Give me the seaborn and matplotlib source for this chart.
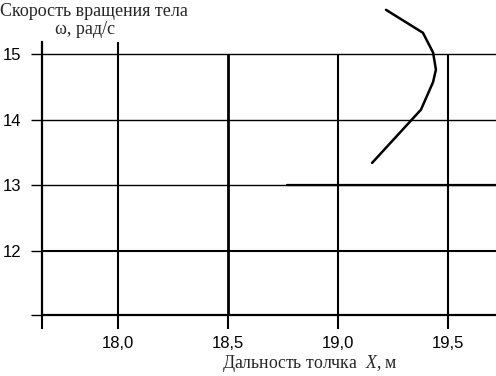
import matplotlib
matplotlib.use("Agg")
import matplotlib.pyplot as plt
import seaborn as sns
import pandas as pd

sns.set_theme(style="white")
plt.rcParams["font.family"] = ["Liberation Sans", "DejaVu Sans"]
plt.rcParams["mathtext.fontset"] = "custom"
plt.rcParams["mathtext.it"] = "Liberation Serif:italic"

# curve: throw distance X (m) vs body rotation speed omega (rad/s)
distance = [19.155, 19.377, 19.432, 19.445, 19.432, 19.386, 19.218]
omega = [13.34, 14.15, 14.57, 14.76, 15.02, 15.32, 15.67]

# horizontal reference segment at omega = 13
ref_x = [18.77, 19.72]
ref_y = [13.0, 13.0]

x_ticks = [18.0, 18.5, 19.0, 19.5]
x_labels = ["18,0", "18,5", "19,0", "19,5"]
y_ticks = [12, 13, 14, 15]
y_labels = ["12", "13", "14", "15"]

xmin, xmax = 17.655, 19.718
ymin, ymax = 11.025, 15.18

df = pd.DataFrame({"x": distance, "w": omega})

fig = plt.figure(figsize=(4.96, 3.76), dpi=100)
ax = fig.add_axes([42 / 496, 61 / 376, 1 - 42 / 496, (315 - 42) / 376])

sns.lineplot(data=df, x="x", y="w", sort=False, estimator=None, color="black",
             lw=1.8, ax=ax, clip_on=False, zorder=5)
ax.plot(ref_x, ref_y, color="black", lw=1.6, zorder=4)

ax.set_xlim(xmin, xmax)
ax.set_ylim(ymin, ymax)

# grid
for t in y_ticks:
    ax.axhline(t, color="black", lw=1.0 if t != 12 else 1.5, zorder=1)
for t in x_ticks:
    top = ymax if t == 18.0 else 15.0
    ax.vlines(t, ymin, top, color="black", lw=2.0 if t == 18.5 else 1.5, zorder=1)

ax.set_xticks([xmin] + x_ticks)
ax.set_xticklabels([""] + x_labels)
ax.set_yticks([ymin] + y_ticks)
ax.set_yticklabels([""] + y_labels)
ax.tick_params(axis="x", direction="out", length=10, width=1.5, colors="black",
               labelsize=12, pad=5, bottom=True)
ax.tick_params(axis="y", direction="out", length=8, width=1.0, colors="black",
               labelsize=12, pad=7, left=True)

for s in ["top", "right"]:
    ax.spines[s].set_visible(False)
ax.spines["left"].set_color("black")
ax.spines["left"].set_linewidth(1.6)
ax.spines["bottom"].set_color("black")
ax.spines["bottom"].set_linewidth(1.6)
ax.set_xlabel("")
ax.set_ylabel("")

fig.text(0.0, 1 - 12 / 376, "Скорость вращения тела", family="Liberation Serif",
         fontsize=13, va="center", ha="left")
fig.text(55 / 496, 1 - 30 / 376, "ω, рад/с", family="Liberation Serif",
         fontsize=13, va="center", ha="left")
fig.text(222 / 496, 1 - 363 / 376, "Дальность толчка  $X$, м", family="Liberation Serif",
         fontsize=12.8, va="center", ha="left")

fig.savefig("out.png", dpi=100, facecolor="white")
